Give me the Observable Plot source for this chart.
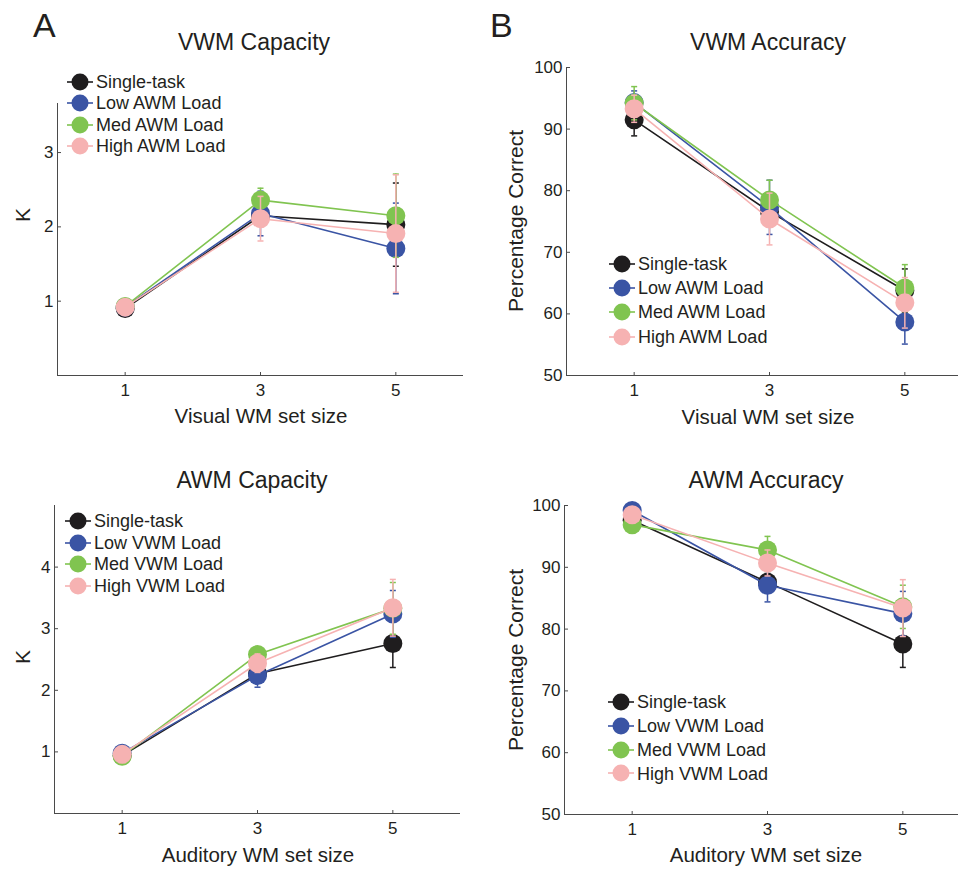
<!DOCTYPE html>
<html><head><meta charset="utf-8">
<script src="https://cdn.jsdelivr.net/npm/d3@7"></script>
<script src="https://cdn.jsdelivr.net/npm/@observablehq/plot@0.6"></script>
<style>
html,body{margin:0;padding:0;background:#fff;overflow:hidden}
#fig{position:relative;width:958px;height:871px;overflow:hidden;background:#fff;font-family:"Liberation Sans",Arial,Helvetica,sans-serif;color:#231f20}
#fig svg{position:absolute}
.t{position:absolute;white-space:nowrap;line-height:1}
</style></head>
<body><div id="fig"></div>
<script>
// ---- data ----
const setSizes = [1, 3, 5];
const xTicks = [1, 3, 5];
const awmSeries = ["Single-task", "Low AWM Load", "Med AWM Load", "High AWM Load"];
const vwmSeries = ["Single-task", "Low VWM Load", "Med VWM Load", "High VWM Load"];
const seriesColors = ["#1f1d1e", "#3a54a4", "#80c450", "#f6b2b2"];

// VWM capacity (K) under AWM load
const vwmCapMean = [[0.90, 2.15, 2.03], [0.92, 2.18, 1.71], [0.93, 2.36, 2.15], [0.92, 2.11, 1.91]];
const vwmCapErr  = [[0.04, 0.12, 0.56], [0.04, 0.30, 0.61], [0.04, 0.16, 0.56], [0.04, 0.30, 0.79]];
const vwmCapTicks = [1, 2, 3];
// VWM accuracy (%)
const vwmAccMean = [[91.5, 76.6, 63.8], [94.3, 77.3, 58.7], [94.2, 78.5, 64.2], [93.3, 75.4, 61.8]];
const vwmAccErr  = [[2.6, 2.4, 3.5], [1.9, 4.4, 3.6], [2.7, 3.2, 3.8], [2.2, 4.2, 4.1]];
// AWM capacity (K) under VWM load
const awmCapMean = [[0.94, 2.27, 2.76], [0.98, 2.24, 3.24], [0.93, 2.58, 3.33], [0.96, 2.44, 3.34]];
const awmCapErr  = [[0.03, 0.10, 0.39], [0.03, 0.19, 0.38], [0.03, 0.10, 0.42], [0.03, 0.15, 0.46]];
const awmCapTicks = [1, 2, 3, 4];
// AWM accuracy (%)
const awmAccMean = [[97.6, 87.6, 77.6], [99.2, 87.1, 82.5], [96.9, 92.8, 83.6], [98.5, 90.7, 83.4]];
const awmAccErr  = [[0.8, 1.4, 3.8], [0.6, 2.7, 3.6], [1.0, 2.2, 3.5], [0.9, 2.1, 4.6]];
const accTicks = [50, 60, 70, 80, 90, 100];

// ---- drawing ----
const fig = document.getElementById("fig");
const FONT = '"Liberation Sans", Arial, Helvetica, sans-serif';
const INK = "#231f20";
const AXIS = "#4a4a4a";

const capSymbol = {
  draw(ctx, size) { const r = Math.sqrt(size / Math.PI); ctx.moveTo(-r, 0); ctx.lineTo(r, 0); }
};

function rowsFor(mean, err, names) {
  return names.map((name, i) => setSizes.map((s, j) => ({
    series: name, idx: i, x: s, y: mean[i][j], lo: mean[i][j] - err[i][j], hi: mean[i][j] + err[i][j]
  })));
}

function panel(o) {
  const groups = rowsFor(o.mean, o.err, o.names);
  const marks = [];
  groups.forEach((rows, i) => {
    const c = seriesColors[i];
    marks.push(
      Plot.ruleX(rows, {x: "x", y1: "lo", y2: "hi", stroke: c, strokeWidth: 1.5}),
      Plot.dot(rows, {x: "x", y: "hi", symbol: capSymbol, r: 3, stroke: c, strokeWidth: 1.5}),
      Plot.dot(rows, {x: "x", y: "lo", symbol: capSymbol, r: 3, stroke: c, strokeWidth: 1.5}),
      Plot.line(rows, {x: "x", y: "y", stroke: c, strokeWidth: 1.6}),
      Plot.dot(rows, {x: "x", y: "y", r: 9.5, fill: c, stroke: "none"})
    );
  });
  marks.push(
    Plot.ruleX([0], {stroke: AXIS, strokeWidth: 1}),
    Plot.ruleY([o.yDomain[0]], {stroke: AXIS, strokeWidth: 1}),
    Plot.axisX(xTicks, {tickSize: -3, tickPadding: 11, label: null, fontSize: 17, stroke: AXIS, tickFormat: d => String(d)}),
    Plot.axisY(o.yTicks, {tickSize: -4, tickPadding: 8, label: null, fontSize: 17, stroke: AXIS, tickFormat: d => String(d)})
  );
  const svg = Plot.plot({
    width: o.width, height: o.height,
    marginLeft: o.ml, marginRight: o.mr, marginTop: o.mt, marginBottom: o.mb,
    x: {domain: [0, 6]},
    y: {domain: o.yDomain},
    style: {fontFamily: FONT, fontSize: "17px", color: INK, background: "transparent", overflow: "visible"},
    marks
  });
  svg.style.left = o.left + "px";
  svg.style.top = o.top + "px";
  fig.appendChild(svg);

  // legend
  o.names.forEach((name, i) => {
    const cy = o.legY + i * o.legDy;
    const s = document.createElementNS("http://www.w3.org/2000/svg", "svg");
    s.setAttribute("width", 28); s.setAttribute("height", 20);
    s.style.left = (o.legX - 14) + "px"; s.style.top = (cy - 10) + "px";
    s.innerHTML = `<line x1="1" x2="27" y1="10" y2="10" stroke="${seriesColors[i]}" stroke-width="1.6"/>` +
                  `<circle cx="14" cy="10" r="8.5" fill="${seriesColors[i]}"/>`;
    fig.appendChild(s);
    addText(name, o.legX + 16, cy - 0.49 * 18, 18, "left");
  });
}

function addText(str, x, top, size, align, rotate) {
  const d = document.createElement("div");
  d.className = "t";
  d.textContent = str;
  d.style.fontSize = size + "px";
  d.style.left = x + "px";
  d.style.top = top + "px";
  if (rotate) d.style.transform = "translate(-50%,-50%) rotate(-90deg)";
  else if (align === "center") d.style.transform = "translateX(-50%)";
  fig.appendChild(d);
}
// baseline-based helper (line-height 1)
const byBase = (b, f) => b - 0.846 * f;

panel({mean: vwmCapMean, err: vwmCapErr, names: awmSeries, yDomain: [0, 3.66], yTicks: vwmCapTicks,
  left: 0, top: 0, width: 480, height: 440, ml: 57, mr: 17, mt: 103, mb: 65,
  legX: 80, legY: 82, legDy: 21.3});
panel({mean: vwmAccMean, err: vwmAccErr, names: awmSeries, yDomain: [50, 100], yTicks: accTicks,
  left: 480, top: 0, width: 500, height: 440, ml: 86, mr: 8, mt: 67, mb: 65,
  legX: 622, legY: 263.5, legDy: 24.4});
panel({mean: awmCapMean, err: awmCapErr, names: vwmSeries, yDomain: [0, 5], yTicks: awmCapTicks,
  left: 0, top: 440, width: 480, height: 431, ml: 54, mr: 20, mt: 65, mb: 58,
  legX: 78, legY: 520.7, legDy: 21.8});
panel({mean: awmAccMean, err: awmAccErr, names: vwmSeries, yDomain: [50, 100], yTicks: accTicks,
  left: 480, top: 440, width: 500, height: 431, ml: 84, mr: 10, mt: 65, mb: 57,
  legX: 621, legY: 701.7, legDy: 23.9});

// panel letters and titles
addText("A", 33, byBase(37, 34), 34, "left");
addText("B", 490, byBase(37, 34), 34, "left");
addText("VWM Capacity", 254, byBase(50, 23), 23, "center");
addText("VWM Accuracy", 768, byBase(50, 23), 23, "center");
addText("AWM Capacity", 252, byBase(488, 23), 23, "center");
addText("AWM Accuracy", 766, byBase(488, 23), 23, "center");
// x labels
addText("Visual WM set size", 261, byBase(423, 20.5), 20.5, "center");
addText("Visual WM set size", 768, byBase(424, 20.5), 20.5, "center");
addText("Auditory WM set size", 258, byBase(862, 20.5), 20.5, "center");
addText("Auditory WM set size", 766, byBase(862, 20.5), 20.5, "center");
// y labels
addText("K", 22, 215, 21, "left", true);
addText("K", 22, 657, 21, "left", true);
addText("Percentage Correct", 515, 221, 21, "left", true);
addText("Percentage Correct", 515, 660, 21, "left", true);
</script>
</body></html>
